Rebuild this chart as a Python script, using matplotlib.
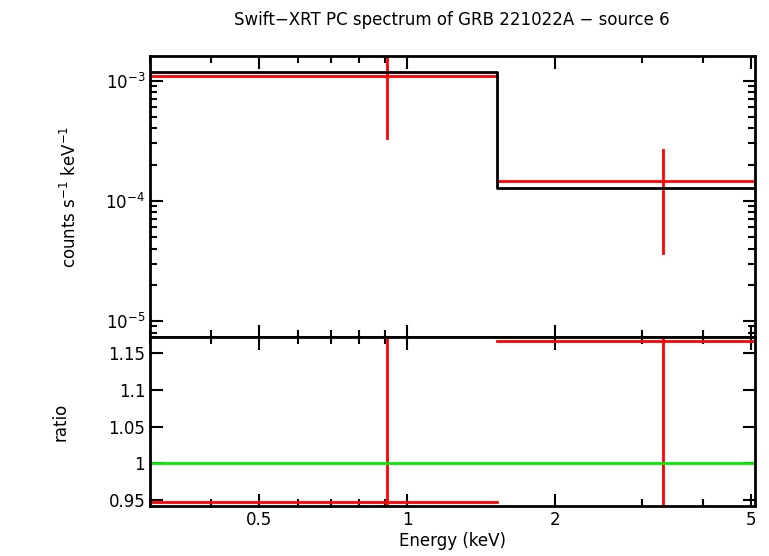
import numpy as np
import matplotlib
matplotlib.use("Agg")
import matplotlib.pyplot as plt
from matplotlib.ticker import FixedLocator, NullFormatter

# data bins
e_lo = [0.3, 1.52]
e_hi = [1.52, 5.1]
e_mid = [0.91, 3.32]
rate = [1.1e-3, 1.47e-4]
rate_lo = [3.35e-4, 3.69e-5]
rate_hi = [2.2e-3, 2.66e-4]
model = [1.17e-3, 1.28e-4]
ratio = [0.948, 1.166]
ratio_lo = [0.5, 0.5]
ratio_hi = [1.6, 1.6]

fig = plt.figure(figsize=(7.69, 5.56), dpi=100)
ax1 = fig.add_axes([150/769, 1-337/556, 605/769, 281/556])
ax2 = fig.add_axes([150/769, 1-506/556, 605/769, 169/556], sharex=ax1)

for i in range(2):
    ax1.plot([e_lo[i], e_hi[i]], [rate[i], rate[i]], color="red", lw=2)
    ax1.plot([e_mid[i], e_mid[i]], [rate_lo[i], rate_hi[i]], color="red", lw=2)
    ax2.plot([e_lo[i], e_hi[i]], [ratio[i], ratio[i]], color="red", lw=2)
    ax2.plot([e_mid[i], e_mid[i]], [ratio_lo[i], ratio_hi[i]], color="red", lw=2)

ax1.step([e_lo[0], e_lo[1], e_hi[1]], [model[0], model[1], model[1]], where="post", color="black", lw=2)
ax2.axhline(1.0, color="#00ee00", lw=2)

ax1.set_xscale("log")
ax1.set_yscale("log")
ax1.set_xlim(0.3, 5.1)
ax1.set_ylim(7.36e-6, 1.6e-3)
ax2.set_ylim(0.942, 1.172)

ax2.xaxis.set_major_locator(FixedLocator([0.5, 1, 2, 5]))
ax2.set_xticklabels(["0.5", "1", "2", "5"])
ax2.xaxis.set_minor_locator(FixedLocator([0.3, 0.4, 0.6, 0.7, 0.8, 0.9, 3, 4]))
ax2.xaxis.set_minor_formatter(NullFormatter())
ax2.set_yticks([0.95, 1, 1.05, 1.1, 1.15])
ax2.set_yticklabels(["0.95", "1", "1.05", "1.1", "1.15"])
plt.setp(ax1.get_xticklabels(), visible=False)

for ax in (ax1, ax2):
    ax.tick_params(which="both", direction="in", top=True, right=True, labelsize=12, width=1.5)
    ax.tick_params(which="major", length=9)
    ax.tick_params(which="minor", length=5)
    for s in ax.spines.values():
        s.set_linewidth(2)

ax1.set_ylabel("counts s$^{-1}$ keV$^{-1}$", fontsize=12, labelpad=18)
ax2.set_ylabel("ratio", fontsize=12, labelpad=28)
ax2.set_xlabel("Energy (keV)", fontsize=12, labelpad=2)
fig.text(452/769, 1-20/556, "Swift\u2212XRT PC spectrum of GRB 221022A \u2212 source 6", ha="center", va="center", fontsize=12)

fig.savefig("out.png", dpi=100)
